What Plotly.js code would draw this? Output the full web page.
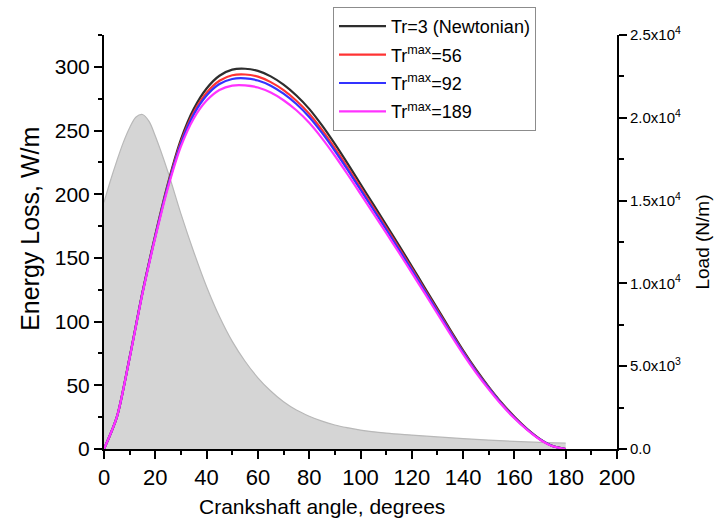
<!DOCTYPE html>
<html>
<head>
<meta charset="utf-8">
<script src="https://cdn.plot.ly/plotly-3.0.1.min.js"></script>
<style>html,body{margin:0;padding:0;background:#fff;}#chart{width:715px;height:520px;}</style>
</head>
<body>
<div id="chart"></div>
<script>
// Crankshaft angle (degrees) for energy loss curves
const angle = [0,5,10,15,20,25,30,35,40,45,50,55,60,65,70,75,80,85,90,95,100,105,110,115,120,125,130,135,140,145,150,155,160,165,170,175,180];
// Energy loss, W/m
const lossNewtonian = [0,25,72,123,168,209,243,267,283,293,297.8,298.5,296.8,292.5,286,277.5,267,254,239.5,224,208,192,176,159.8,143.4,126.8,110.2,93.6,77.5,62.5,48.8,36.3,25.3,15.7,7.8,2.3,0];
const loss56 = [0,25,71.8,122.6,167.3,207.8,241.1,264.4,279.7,289.1,293.4,294,292.3,288,281.7,273.4,263.2,250.5,236.2,221,205.3,189.5,173.8,157.8,141.6,125.2,108.8,92.4,76.4,61.6,48.1,35.7,24.9,15.4,7.6,2.2,0];
const loss92 = [0,25,71.7,122.4,166.8,207,239.8,262.7,277.5,286.5,290.5,291,289.3,285.2,278.9,270.8,260.7,248.2,234.1,219.1,203.6,188,172.4,156.5,140.5,124.2,107.9,91.6,75.8,61,47.7,35.4,24.6,15.3,7.5,2.2,0];
const loss189 = [0,25,71.5,122,166,205.5,237.5,259.5,273.5,281.8,285.3,285.5,283.8,279.8,273.8,265.9,256.1,243.9,230.2,215.5,200.3,185,169.7,154.1,138.3,122.3,106.2,90.1,74.5,60,46.8,34.7,24.1,14.9,7.3,2.1,0];
// Load (N/m)
const loadAngle = [0,2.5,5,7.5,10,12.5,15,17.5,20,25,30,35,40,45,50,55,60,65,70,75,80,85,90,95,100,110,120,130,140,150,160,170,180];
const load = [14900,16200,17400,18500,19400,20050,20200,19800,18900,16700,14200,11900,9800,8000,6500,5300,4300,3500,2850,2350,1980,1680,1450,1280,1140,960,840,730,630,540,460,400,350];
// Legend names
const seriesNames = ["Tr=3 (Newtonian)","Tr<sup>max</sup>=56","Tr<sup>max</sup>=92","Tr<sup>max</sup>=189"];
// Axis ticks
const xTicks = [0,20,40,60,80,100,120,140,160,180,200];
const lossTicks = [0,50,100,150,200,250,300];
const loadTicks = [0,5000,10000,15000,20000,25000];
const loadTickText = ["0.0","5.0x10<sup>3</sup>","1.0x10<sup>4</sup>","1.5x10<sup>4</sup>","2.0x10<sup>4</sup>","2.5x10<sup>4</sup>"];

const colors = ["#2e2e2e","#ff3333","#3333ff","#ff33ff"];
const lossSeries = [lossNewtonian, loss56, loss92, loss189];
const FONT = "Liberation Sans, Arial, sans-serif";

const traces = [{
  x: loadAngle, y: load, yaxis: 'y', type: 'scatter', mode: 'lines',
  line: {color: '#b8b8b8', width: 1.2, shape: 'spline'},
  fill: 'tozeroy', fillcolor: '#d5d5d5', showlegend: false, hoverinfo: 'skip'
}];
lossSeries.forEach((s, i) => {
  traces.push({
    x: angle, y: s, yaxis: 'y2', type: 'scatter', mode: 'lines',
    name: seriesNames[i], legendgroup: 'g' + i,
    line: {color: colors[i], width: 2.2, shape: 'spline', smoothing: 0.8}
  });
});

const layout = {
  width: 715, height: 520,
  margin: {l: 104, r: 98, t: 35, b: 71, autoexpand: false},
  paper_bgcolor: '#fff', plot_bgcolor: 'rgba(0,0,0,0)',
  font: {family: FONT, color: '#000'},
  showlegend: true,
  legend: {
    xref: 'container', yref: 'container',
    x: 333 / 715, y: 1 - 7 / 520, xanchor: 'left', yanchor: 'top',
    bgcolor: '#fff', bordercolor: '#8c8c8c', borderwidth: 1,
    font: {family: FONT, size: 18, color: '#000'},
    traceorder: 'grouped', tracegroupgap: 2, itemwidth: 47
  },
  xaxis: {
    range: [0, 200], tickvals: xTicks, ticks: 'outside', ticklen: 8, tickwidth: 2,
    tickcolor: '#000', showline: true, linewidth: 2, linecolor: '#000',
    showgrid: false, zeroline: false, tickfont: {size: 22},
    minor: {dtick: 10, ticks: 'outside', ticklen: 4, tickwidth: 2, tickcolor: '#000', showgrid: false}
  },
  yaxis: {
    side: 'right', range: [0, 25000], tickvals: loadTicks, ticktext: loadTickText,
    ticks: 'outside', ticklen: 8, tickwidth: 2, tickcolor: '#000',
    showline: true, linewidth: 2, linecolor: '#000', showgrid: false, zeroline: false,
    tickfont: {size: 15},
    minor: {dtick: 2500, ticks: 'outside', ticklen: 5, tickwidth: 2, tickcolor: '#000', showgrid: false},
    title: {text: 'Load (N/m)', font: {size: 19}, standoff: 16}
  },
  yaxis2: {
    overlaying: 'y', side: 'left', range: [0, 325], tickvals: lossTicks,
    ticks: 'outside', ticklen: 8, tickwidth: 2, tickcolor: '#000',
    showline: true, linewidth: 2, linecolor: '#000', showgrid: false, zeroline: false,
    tickfont: {size: 21},
    minor: {dtick: 25, ticks: 'outside', ticklen: 4, tickwidth: 2, tickcolor: '#000', showgrid: false}
  },
  annotations: [{
    text: 'Crankshaft angle, degrees', xref: 'paper', yref: 'paper',
    x: 0.425, y: -0.139, xanchor: 'center', yanchor: 'middle',
    showarrow: false, font: {size: 21, family: FONT, color: '#000'}
  }, {
    text: 'Energy Loss, W/m', xref: 'paper', yref: 'paper',
    x: (30 - 104) / 513, y: (449.3 - 229) / 414.3, xanchor: 'center', yanchor: 'middle',
    textangle: -90, showarrow: false, font: {size: 25, family: FONT, color: '#000'}
  }]
};

Plotly.newPlot('chart', traces, layout, {displayModeBar: false, staticPlot: true});
</script>
</body>
</html>
